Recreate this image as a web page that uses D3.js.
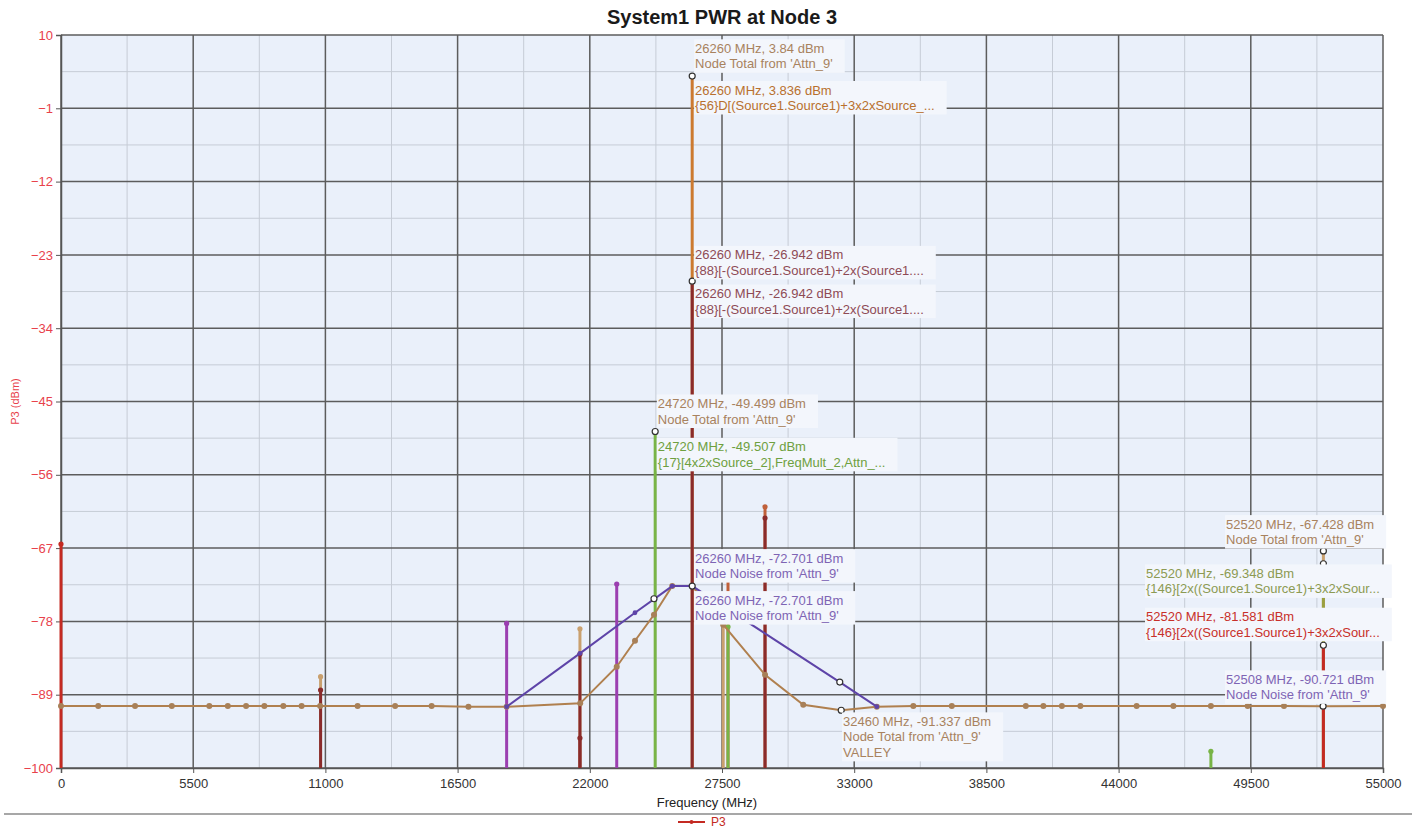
<!DOCTYPE html>
<html>
<head>
<meta charset="utf-8">
<script src="https://cdn.jsdelivr.net/npm/d3@7"></script>
<style>
  html, body { margin: 0; padding: 0; background: #ffffff; }
  svg { display: block; font-family: "Liberation Sans", Arial, sans-serif; }
</style>
</head>
<body>
<svg id="chart" width="1417" height="830"></svg>
<script>
// ---------------- DATA ----------------
const title = "System1 PWR at Node 3";
const xTicks = [0, 5500, 11000, 16500, 22000, 27500, 33000, 38500, 44000, 49500, 55000];
const yTicks = [10, -1, -12, -23, -34, -45, -56, -67, -78, -89, -100];

// Node Total (continuous curve)
const totalFreq = [0, 1550, 3080, 4610, 6170, 6940, 7700, 8460, 9250, 10010, 10780, 12340, 13900, 15420, 16950, 18540, 21600, 23120, 23880, 24670, 25430, 26260, 27550, 29290, 30880, 32460, 33940, 35460, 37060, 40140, 40870, 41640, 42410, 44750, 46280, 47840, 49370, 50880, 52508, 55000];
const totalDbm  = [-90.7, -90.7, -90.7, -90.7, -90.7, -90.7, -90.7, -90.7, -90.7, -90.7, -90.7, -90.7, -90.7, -90.7, -90.8, -90.8, -90.3, -84.8, -80.9, -77.0, -72.7, -72.7, -78.5, -86.0, -90.5, -91.337, -90.8, -90.7, -90.7, -90.7, -90.7, -90.7, -90.7, -90.7, -90.7, -90.7, -90.7, -90.7, -90.721, -90.7];

// Node Noise (continuous curve)
const noiseFreq = [18540, 21590, 23880, 25430, 26260, 32400, 33940];
const noiseDbm  = [-90.8, -82.8, -76.7, -72.7, -72.701, -87.1, -90.8];

// Spectral components (stems from the floor up to the value)
const stemFreq   = [0, 10800, 10800, 18540, 21590, 21590, 21590, 23120, 24720, 26260, 26260, 27550, 27750, 27750, 29290, 29290, 47840, 52520, 52520, 52520];
const stemDbm    = [-66.4, -86.3, -88.3, -78.3, -79.1, -82.9, -95.5, -72.4, -49.507, 3.836, -26.942, -78.5, -70.0, -78.8, -60.8, -62.5, -97.5, -67.428, -69.348, -81.581];
const stemSeries = ["P3", "total", "mixA", "mixB", "total", "mixA", "mixA", "mixB", "mixC", "mixD", "mixA", "total", "mixE", "mixC", "mixE", "mixA", "mixC", "total", "mixF", "P3"];

// Marked points (cursor markers)
const markFreq = [26260, 26260, 24720, 24670, 26260, 32400, 32460, 52520, 52520, 52520, 52508];
const markDbm  = [3.84, -26.942, -49.499, -74.6, -72.701, -87.1, -91.337, -67.428, -69.348, -81.581, -90.721];

// Annotations: first line position (frequency where text starts, dBm of first line)
const labelFreq = [26380, 26380, 26380, 26380, 24830, 24830, 26380, 26380, 32535, 48470, 45140, 45140, 48470];
const labelDbm  = [8.0, 1.75, -23.0, -28.8, -45.3, -51.8, -68.5, -74.8, -93.0, -63.4, -70.8, -77.3, -86.7];
const labelSeries = ["total", "mixD", "mixA", "mixA", "total", "mixC", "noise", "noise", "total", "total", "mixF", "P3", "noise"];
const labelText = [
  ["26260 MHz, 3.84 dBm", "Node Total from 'Attn_9'"],
  ["26260 MHz, 3.836 dBm", "{56}D[(Source1.Source1)+3x2xSource_..."],
  ["26260 MHz, -26.942 dBm", "{88}[-(Source1.Source1)+2x(Source1...."],
  ["26260 MHz, -26.942 dBm", "{88}[-(Source1.Source1)+2x(Source1...."],
  ["24720 MHz, -49.499 dBm", "Node Total from 'Attn_9'"],
  ["24720 MHz, -49.507 dBm", "{17}[4x2xSource_2],FreqMult_2,Attn_..."],
  ["26260 MHz, -72.701 dBm", "Node Noise from 'Attn_9'"],
  ["26260 MHz, -72.701 dBm", "Node Noise from 'Attn_9'"],
  ["32460 MHz, -91.337 dBm", "Node Total from 'Attn_9'", "VALLEY"],
  ["52520 MHz, -67.428 dBm", "Node Total from 'Attn_9'"],
  ["52520 MHz, -69.348 dBm", "{146}[2x((Source1.Source1)+3x2xSour..."],
  ["52520 MHz, -81.581 dBm", "{146}[2x((Source1.Source1)+3x2xSour..."],
  ["52508 MHz, -90.721 dBm", "Node Noise from 'Attn_9'"]
];
const legendNames = ["P3"];

// ---------------- STYLE ----------------
const stemColor = { P3: "#c42a22", total: "#c9a06e", mixA: "#8a2b2b", mixB: "#9b3fb0", mixC: "#78b446", mixD: "#cc7a30", mixE: "#c0603a", mixF: "#9aa040" };
const textColor = { P3: "#c8302a", total: "#a8825e", mixA: "#8e4a55", mixC: "#6ea040", mixD: "#b8702e", noise: "#7e64b4", mixF: "#8c9a52" };

const M = { left: 61, top: 35 };
const pw = 1322, ph = 733;

const svg = d3.select("#chart");
const x = d3.scaleLinear().domain([0, 55000]).range([0, pw]);
const y = d3.scaleLinear().domain([-100, 10]).range([ph, 0]);

// title
svg.append("text").attr("x", M.left + pw / 2).attr("y", 24).attr("text-anchor", "middle")
  .attr("font-size", 20).attr("font-weight", "bold").attr("fill", "#1a1a1a").text(title);

const g = svg.append("g").attr("transform", `translate(${M.left},${M.top})`);

// background
g.append("rect").attr("width", pw).attr("height", ph).attr("fill", "#eaf0fa");

// minor grid
const xMinor = xTicks.slice(0, -1).map((v, i) => (v + xTicks[i + 1]) / 2);
const yMinor = yTicks.slice(0, -1).map((v, i) => (v + yTicks[i + 1]) / 2);
g.selectAll("line.xm").data(xMinor).join("line")
  .attr("x1", d => x(d)).attr("x2", d => x(d)).attr("y1", 0).attr("y2", ph)
  .attr("stroke", "#c6ccd6").attr("stroke-width", 1);
g.selectAll("line.ym").data(yMinor).join("line")
  .attr("x1", 0).attr("x2", pw).attr("y1", d => y(d)).attr("y2", d => y(d))
  .attr("stroke", "#c6ccd6").attr("stroke-width", 1);

// major grid
g.selectAll("line.xg").data(xTicks).join("line")
  .attr("x1", d => x(d)).attr("x2", d => x(d)).attr("y1", 0).attr("y2", ph)
  .attr("stroke", "#5c5c5c").attr("stroke-width", 1.5);
g.selectAll("line.yg").data(yTicks).join("line")
  .attr("x1", 0).attr("x2", pw).attr("y1", d => y(d)).attr("y2", d => y(d))
  .attr("stroke", "#5c5c5c").attr("stroke-width", 1.5);

// axes
const yAxis = d3.axisLeft(y).tickValues(yTicks).tickSize(5).tickFormat(d3.format("d"));
const xAxis = d3.axisBottom(x).tickValues(xTicks).tickSize(5).tickFormat(d3.format("d"));
const ya = g.append("g").call(yAxis);
ya.select(".domain").attr("stroke", "#555").attr("stroke-width", 1.5);
ya.selectAll(".tick line").attr("stroke", "#555");
ya.selectAll(".tick text").attr("fill", "#e8414b").attr("font-size", 13).attr("x", -8)
  .attr("font-family", "Liberation Sans, Arial, sans-serif");
const xa = g.append("g").attr("transform", `translate(0,${ph})`).call(xAxis);
xa.select(".domain").attr("stroke", "#555").attr("stroke-width", 1.5);
xa.selectAll(".tick line").attr("stroke", "#555");
xa.selectAll(".tick text").attr("fill", "#333").attr("font-size", 13).attr("y", 11)
  .attr("font-family", "Liberation Sans, Arial, sans-serif");

// axis titles
svg.append("text").attr("x", M.left + pw / 2 - 15).attr("y", 807).attr("text-anchor", "middle")
  .attr("font-size", 13).attr("fill", "#222").text("Frequency (MHz)");
svg.append("text").attr("transform", `translate(19,${M.top + ph / 2}) rotate(-90)`)
  .attr("text-anchor", "middle").attr("font-size", 11).attr("fill", "#e8414b").text("P3 (dBm)");

// clip
svg.append("defs").append("clipPath").attr("id", "clip").append("rect")
  .attr("x", -4).attr("y", -4).attr("width", pw + 8).attr("height", ph + 4);
const pg = g.append("g").attr("clip-path", "url(#clip)");

// stems
const stems = stemFreq.map((f, i) => ({ f, v: stemDbm[i], s: stemSeries[i] }));
const order = stems.slice().sort((a, b) => b.v - a.v);
pg.selectAll("line.stem").data(order).join("line")
  .attr("x1", d => x(d.f)).attr("x2", d => x(d.f))
  .attr("y1", y(-100)).attr("y2", d => y(d.v))
  .attr("stroke", d => stemColor[d.s]).attr("stroke-width", 3);
pg.selectAll("circle.stemdot").data(order).join("circle")
  .attr("cx", d => x(d.f)).attr("cy", d => y(d.v)).attr("r", 2.6)
  .attr("fill", d => stemColor[d.s]);

// curves
const line = d3.line().x(d => x(d[0])).y(d => y(d[1]));
const totalPts = totalFreq.map((f, i) => [f, totalDbm[i]]);
const noisePts = noiseFreq.map((f, i) => [f, noiseDbm[i]]);
pg.append("path").datum(totalPts).attr("d", line).attr("fill", "none")
  .attr("stroke", "#b0804f").attr("stroke-width", 2);
pg.selectAll("circle.tdot").data(totalPts).join("circle")
  .attr("cx", d => x(d[0])).attr("cy", d => y(d[1])).attr("r", 3).attr("fill", "#a88058");
pg.append("path").datum(noisePts).attr("d", line).attr("fill", "none")
  .attr("stroke", "#5e44a8").attr("stroke-width", 2);
pg.selectAll("circle.ndot").data(noisePts).join("circle")
  .attr("cx", d => x(d[0])).attr("cy", d => y(d[1])).attr("r", 2.4).attr("fill", "#5e44a8");

// markers
const marks = markFreq.map((f, i) => [f, markDbm[i]]);
g.selectAll("circle.mk").data(marks).join("circle")
  .attr("cx", d => x(d[0])).attr("cy", d => y(d[1])).attr("r", 3)
  .attr("fill", "#ffffff").attr("stroke", "#333").attr("stroke-width", 1.2);

// annotations
const lh = 15.5;
const labels = labelFreq.map((f, i) => ({ f, v: labelDbm[i], s: labelSeries[i], lines: labelText[i] }));
const lg = svg.append("g").attr("transform", `translate(${M.left},${M.top})`);
labels.forEach(L => {
  const gx = x(L.f), gy = y(L.v);
  const grp = lg.append("g");
  const rect = grp.append("rect");
  const t = grp.append("text").attr("font-size", 13).attr("fill", textColor[L.s]);
  L.lines.forEach((s, k) => {
    t.append("tspan").attr("x", gx).attr("y", gy + k * lh).attr("dy", "0.35em").text(s);
  });
  const bb = t.node().getBBox();
  rect.attr("x", gx - 1).attr("y", gy - 9).attr("width", bb.width + 13)
    .attr("height", (L.lines.length - 1) * lh + 18).attr("fill", "#f3f6fc");
});

// bottom separator + legend
svg.append("line").attr("x1", 4).attr("x2", 1412).attr("y1", 814).attr("y2", 814)
  .attr("stroke", "#8a8a8a").attr("stroke-width", 1.5);
const leg = svg.append("g").attr("transform", "translate(678,822)");
leg.selectAll("g").data(legendNames).join("g").each(function (d) {
  const s = d3.select(this);
  s.append("line").attr("x1", 0).attr("x2", 27).attr("y1", 0).attr("y2", 0).attr("stroke", stemColor.P3).attr("stroke-width", 2);
  s.append("circle").attr("cx", 13.5).attr("cy", 0).attr("r", 2).attr("fill", stemColor.P3);
  s.append("text").attr("x", 33).attr("y", 0).attr("dy", "0.35em").attr("font-size", 12).attr("fill", stemColor.P3).text(d);
});
</script>
</body>
</html>
